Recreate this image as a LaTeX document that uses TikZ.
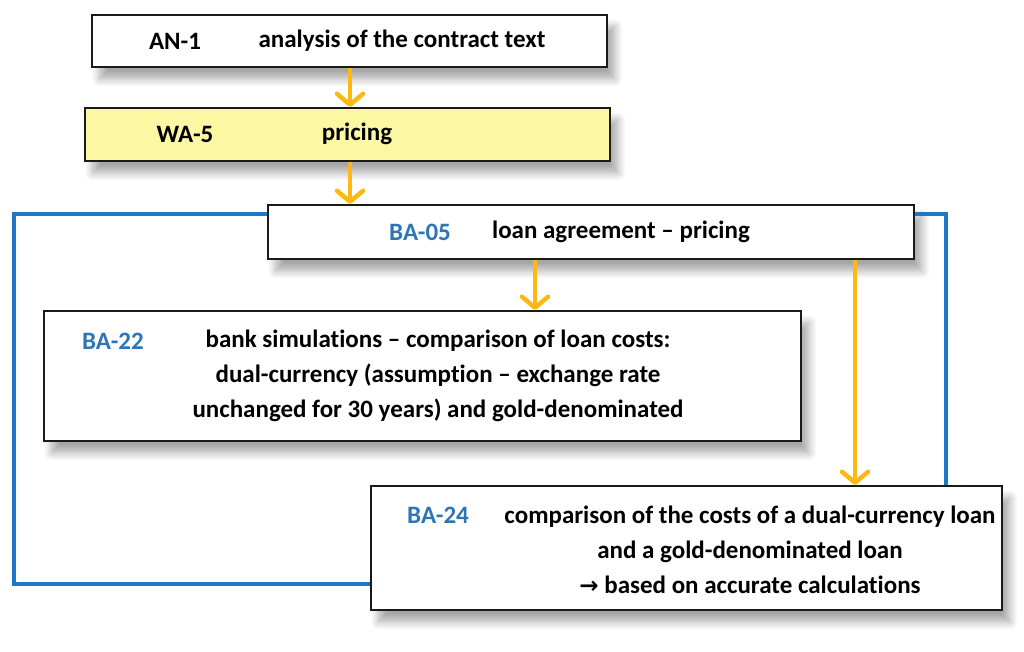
\documentclass[tikz,border=0pt]{standalone}
\usepackage{fontspec}
\setmainfont{Carlito}[Ligatures=NoCommon]
\usetikzlibrary{arrows.meta,shadows.blur}
\definecolor{boxline}{HTML}{1A1A1A}
\definecolor{wayel}{HTML}{FBF7A3}
\definecolor{flowor}{HTML}{FDB813}
\definecolor{linkblue}{HTML}{1E78C8}
\definecolor{codeblue}{HTML}{2E75B6}
\tikzset{
  card/.style={draw=boxline, line width=1.6pt, fill=white, anchor=north west, inner sep=0pt,
    blur shadow={shadow xshift=8pt, shadow yshift=-12pt, shadow blur steps=12, shadow opacity=35, shadow blur radius=8pt}},
  txt/.style={font=\fontsize{25}{35}\selectfont\bfseries, inner sep=0pt, text=black},
  code/.style={txt, text=codeblue},
  codeblack/.style={txt},
  flow/.style={draw=flowor, line width=4.5pt, -{Straight Barb[round, length=11pt, width=26pt]}},
  link/.style={draw=linkblue, line width=3.5pt}
}
\begin{document}
\begin{tikzpicture}[x=1pt,y=-1pt]
\useasboundingbox (0,0) rectangle (1024,651);
% boxes
\node[card, minimum width=515pt, minimum height=52pt] (an) at (91,14) {};
\node[card, fill=wayel, minimum width=525pt, minimum height=53pt] (wa) at (84,107) {};
% blue link corners
\coordinate (lt) at (14,214);
\coordinate (lb) at (14,584);
\coordinate (rt) at (946,214);
\node[card, minimum width=646pt, minimum height=54pt] (ba5) at (267,204) {};
\node[card, minimum width=757pt, minimum height=130pt] (ba22) at (43,310) {};
\node[card, minimum width=631pt, minimum height=124pt] (ba24) at (370,485) {};
\draw[link] (ba5.west |- lt) -- (lt) -- (lb) -- (ba24.west |- lb);
\draw[link] (ba5.east |- rt) -- (rt) -- (rt |- ba24.north);
% texts
\node[codeblack] (t1a) at (175,41) {AN-1};
\node[txt] (t1b) at (402,41) {analysis of the contract text};
\node[codeblack] (t2a) at (185,134) {WA-5};
\node[txt] (t2b) at (357,134) {pricing};
\node[code] (t3a) at (420,232) {BA-05};
\node[txt] (t3b) at (621,232) {loan agreement – pricing};
\node[code] (t4a) at (113,341) {BA-22};
\node[txt, align=center] (t4b) at (438,376) {bank simulations – comparison of loan costs:\\dual-currency (assumption – exchange rate\\unchanged for 30 years) and gold-denominated};
\node[code] (t5a) at (438,515) {BA-24};
\node[txt, align=center] (t5b) at (750,550) {comparison of the costs of a dual-currency loan\\and a gold-denominated loan\\{\fontspec{DejaVu Sans}\fontsize{23}{35}\selectfont\bfseries →} based on accurate calculations};
% flow arrows
\draw[flow] (an.south -| 350,0) -- (wa.north -| 350,0);
\draw[flow] (wa.south -| 350,0) -- (ba5.north -| 350,0);
\draw[flow] (ba5.south -| 535,0) -- (ba22.north -| 535,0);
\draw[flow] (ba5.south -| 855,0) -- (ba24.north -| 855,0);
\end{tikzpicture}
\end{document}
